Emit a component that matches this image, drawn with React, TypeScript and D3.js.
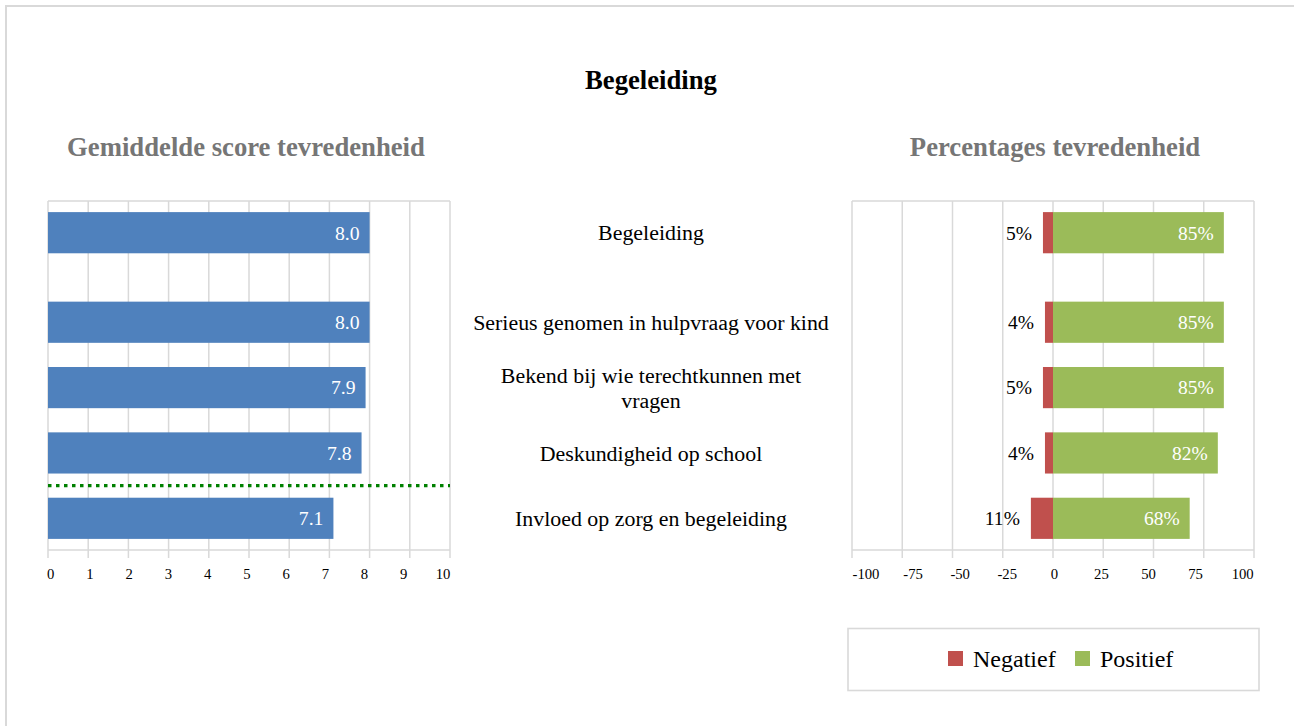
import React from "react";
import * as d3 from "d3";

// Survey items (top to bottom)
const categories: string[][] = [
  ["Begeleiding"],
  ["Serieus genomen in hulpvraag voor kind"],
  ["Bekend bij wie terechtkunnen met", "vragen"],
  ["Deskundigheid op school"],
  ["Invloed op zorg en begeleiding"],
];

// Average satisfaction score (0-10)
const scores: number[] = [8.0, 8.0, 7.9, 7.8, 7.1];

// Percentage negative / positive answers
const negatief: number[] = [5, 4, 5, 4, 11];
const positief: number[] = [85, 85, 85, 82, 68];

const scoreTicks: number[] = [0, 1, 2, 3, 4, 5, 6, 7, 8, 9, 10];
const pctTicks: number[] = [-100, -75, -50, -25, 0, 25, 50, 75, 100];

const legendItems: string[] = ["Negatief", "Positief"];

const FONT = "'Liberation Serif', 'Times New Roman', serif";
const GRID = "#d9d9d9";
const BLUE = "#4f81bd";
const RED = "#c0504d";
const GREEN = "#9bbb59";

export default function App() {
  const W = 1294;
  const H = 726;

  const plotTop = 201;
  const plotBottom = 550;

  // Row layout: the overall item is set apart from the sub-items
  const sectionGap = 0.37;
  const barFrac = 0.63;
  const outerPad = 0.17;
  const slot = (i: number) => i + (i > 0 ? sectionGap : 0);
  const lastSlot = slot(categories.length - 1);

  const y = d3
    .scaleLinear()
    .domain([-outerPad, lastSlot + barFrac + outerPad])
    .range([plotTop, plotBottom]);
  const barH = y(barFrac) - y(0);
  const rowTop = (i: number) => y(slot(i));
  const rowMid = (i: number) => rowTop(i) + barH / 2;

  const xL = d3.scaleLinear().domain([0, 10]).range([48, 450]);
  const xR = d3.scaleLinear().domain([-100, 100]).range([852, 1254]);
  // tick labels are drawn slightly inset from the outer ticks
  const xLLabel = d3.scaleLinear().domain([0, 10]).range([50.7, 443]);
  const xRLabel = d3.scaleLinear().domain([-100, 100]).range([866, 1242.7]);

  const sepIndex = 3;
  const sepY = (rowTop(sepIndex) + barH + rowTop(sepIndex + 1)) / 2;

  const labelX = 651;
  const lineGap = 25.3;

  const legendColors = [RED, GREEN];

  return (
    <svg
      width={W}
      height={H}
      style={{ position: "absolute", left: 0, top: 0, background: "#fff" }}
      fontFamily={FONT}
    >
      {/* outer frame */}
      <rect x={6} y={6} width={1320} height={760} fill="none" stroke={GRID} strokeWidth={2} />

      {/* titles */}
      <text x={651} y={89} textAnchor="middle" fontSize={26.7} fontWeight="bold" fill="#000">
        Begeleiding
      </text>
      <text x={246} y={156} textAnchor="middle" fontSize={26.7} fontWeight="bold" fill="#767676">
        Gemiddelde score tevredenheid
      </text>
      <text x={1055} y={156} textAnchor="middle" fontSize={26.7} fontWeight="bold" fill="#767676">
        Percentages tevredenheid
      </text>

      {/* left panel */}
      <g>
        <line x1={xL(0)} x2={xL(10)} y1={plotTop} y2={plotTop} stroke={GRID} strokeWidth={1.5} />
        {scoreTicks.map((t) => (
          <g key={t}>
            <line x1={xL(t)} x2={xL(t)} y1={plotTop} y2={plotBottom + 8} stroke={GRID} strokeWidth={1.5} />
            <text x={xLLabel(t)} y={579} textAnchor="middle" fontSize={14.7} fill="#000">
              {t}
            </text>
          </g>
        ))}
        <line x1={xL(0)} x2={xL(10)} y1={plotBottom} y2={plotBottom} stroke={GRID} strokeWidth={1.5} />
        {scores.map((v, i) => (
          <g key={i}>
            <rect x={xL(0)} y={rowTop(i)} width={xL(v) - xL(0)} height={barH} fill={BLUE} />
            <text
              x={xL(v) - 10}
              y={rowMid(i)}
              dy="0.35em"
              textAnchor="end"
              fontSize={19.7}
              fill="#fff"
            >
              {v.toFixed(1)}
            </text>
          </g>
        ))}
        <line
          x1={xL(0)}
          x2={xL(10)}
          y1={sepY}
          y2={sepY}
          stroke="#008000"
          strokeWidth={3.2}
          strokeDasharray="3.5,4.5"
        />
      </g>

      {/* category labels */}
      {categories.map((lines, i) => (
        <text key={i} x={labelX} textAnchor="middle" fontSize={21.9} fill="#000">
          {lines.map((ln, j) => (
            <tspan
              key={j}
              x={labelX}
              y={rowMid(i) + (j - (lines.length - 1) / 2) * lineGap}
              dy="0.35em"
            >
              {ln}
            </tspan>
          ))}
        </text>
      ))}

      {/* right panel */}
      <g>
        <line x1={xR(-100)} x2={xR(100)} y1={plotTop} y2={plotTop} stroke={GRID} strokeWidth={1.5} />
        {pctTicks.map((t) => (
          <g key={t}>
            <line x1={xR(t)} x2={xR(t)} y1={plotTop} y2={plotBottom + 8} stroke={GRID} strokeWidth={1.5} />
            <text x={xRLabel(t)} y={579} textAnchor="middle" fontSize={14.7} fill="#000">
              {t}
            </text>
          </g>
        ))}
        <line x1={xR(-100)} x2={xR(100)} y1={plotBottom} y2={plotBottom} stroke={GRID} strokeWidth={1.5} />
        {categories.map((_, i) => (
          <g key={i}>
            <rect
              x={xR(-negatief[i])}
              y={rowTop(i)}
              width={xR(0) - xR(-negatief[i])}
              height={barH}
              fill={RED}
            />
            <rect
              x={xR(0)}
              y={rowTop(i)}
              width={xR(positief[i]) - xR(0)}
              height={barH}
              fill={GREEN}
            />
            <text
              x={xR(-negatief[i]) - 11}
              y={rowMid(i)}
              dy="0.35em"
              textAnchor="end"
              fontSize={19.5}
              fill="#000"
            >
              {negatief[i]}%
            </text>
            <text
              x={xR(positief[i]) - 10}
              y={rowMid(i)}
              dy="0.35em"
              textAnchor="end"
              fontSize={19.5}
              fill="#fff"
            >
              {positief[i]}%
            </text>
          </g>
        ))}
      </g>

      {/* legend */}
      <rect x={848} y={628.5} width={411} height={62} fill="none" stroke={GRID} strokeWidth={1.6} />
      {legendItems.map((name, i) => {
        const lx = [948, 1075][i];
        return (
          <g key={name}>
            <rect x={lx} y={651} width={15} height={15} fill={legendColors[i]} />
            <text x={lx + 25} y={667} fontSize={24} fill="#000">
              {name}
            </text>
          </g>
        );
      })}
    </svg>
  );
}
